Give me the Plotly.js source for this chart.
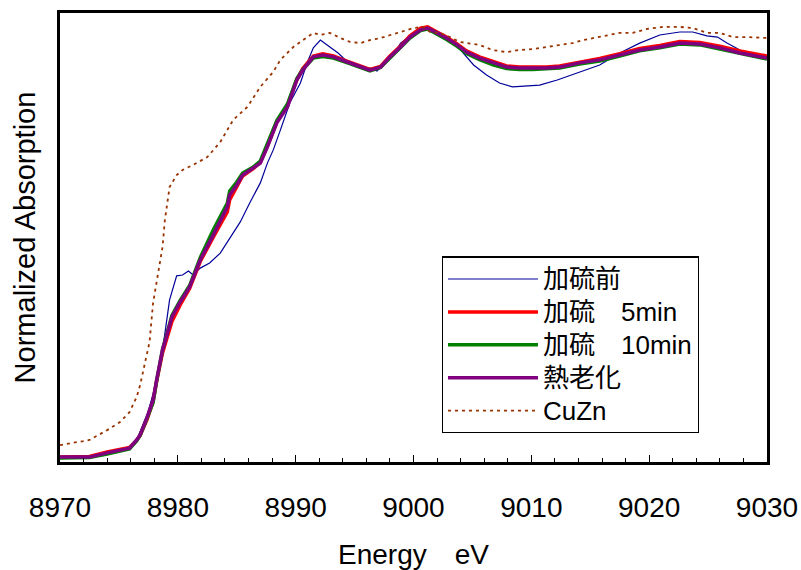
<!DOCTYPE html>
<html>
<head>
<meta charset="utf-8">
<script src="https://cdn.plot.ly/plotly-3.0.1.min.js"></script>
<style>html,body{margin:0;padding:0;background:#fff;}#chart{width:801px;height:570px;}</style>
</head>
<body>
<div id="chart"></div>
<script>
// Sample energies (eV) shared by the three sulfurized/aged curves
const energySample = [8970.0, 8972.5, 8974.0, 8975.9, 8976.5, 8976.8, 8977.4, 8977.9, 8978.2, 8978.7,
  8979.5, 8980.2, 8981.0, 8981.9, 8983.0, 8984.2, 8984.4, 8985.0, 8985.5, 8986.4,
  8987.0, 8987.6, 8988.4, 8989.3, 8990.1, 8990.6, 8991.5, 8992.3, 8993.2, 8994.4,
  8995.5, 8996.3, 8997.2, 8998.0, 8998.9, 8999.7, 9000.6, 9001.2, 9002.0, 9002.8,
  9003.7, 9004.5, 9005.6, 9006.8, 9007.9, 9009.0, 9010.1, 9011.3, 9012.4, 9014.1,
  9015.8, 9017.5, 9019.2, 9020.9, 9022.6, 9024.3, 9026.0, 9027.7, 9029.2, 9030.0];

const aged = [0.003, 0.003, 0.017, 0.033, 0.060, 0.077, 0.137, 0.193, 0.260, 0.360,
  0.470, 0.520, 0.570, 0.660, 0.743, 0.837, 0.877, 0.910, 0.943, 0.967,
  0.983, 1.037, 1.117, 1.170, 1.260, 1.293, 1.337, 1.343, 1.337, 1.320,
  1.303, 1.293, 1.303, 1.337, 1.370, 1.403, 1.427, 1.433, 1.417, 1.400,
  1.377, 1.353, 1.333, 1.317, 1.303, 1.300, 1.300, 1.300, 1.303, 1.317,
  1.327, 1.343, 1.360, 1.370, 1.383, 1.380, 1.367, 1.350, 1.340, 1.333];

const sulf5 = [0.003, 0.005, 0.020, 0.035, 0.058, 0.075, 0.130, 0.188, 0.255, 0.350,
  0.455, 0.510, 0.565, 0.655, 0.735, 0.820, 0.860, 0.905, 0.940, 0.965,
  0.985, 1.040, 1.120, 1.175, 1.262, 1.298, 1.340, 1.347, 1.340, 1.322,
  1.305, 1.295, 1.305, 1.340, 1.373, 1.407, 1.433, 1.437, 1.420, 1.403,
  1.380, 1.357, 1.337, 1.320, 1.307, 1.303, 1.303, 1.303, 1.307, 1.320,
  1.332, 1.348, 1.365, 1.375, 1.388, 1.385, 1.373, 1.357, 1.347, 1.340];

const sulf10 = [0.000, 0.002, 0.013, 0.030, 0.057, 0.075, 0.135, 0.185, 0.257, 0.362,
  0.475, 0.525, 0.575, 0.668, 0.760, 0.850, 0.890, 0.920, 0.950, 0.970,
  0.990, 1.045, 1.125, 1.180, 1.265, 1.295, 1.333, 1.338, 1.333, 1.317,
  1.300, 1.290, 1.302, 1.335, 1.368, 1.400, 1.425, 1.430, 1.413, 1.395,
  1.372, 1.348, 1.328, 1.310, 1.298, 1.295, 1.295, 1.297, 1.300, 1.313,
  1.323, 1.340, 1.357, 1.367, 1.380, 1.377, 1.363, 1.347, 1.337, 1.330];

// Before sulfurization
const energyBefore = [8970.0, 8972.5, 8974.0, 8975.9, 8976.5, 8977.4, 8978.1, 8978.7, 8979.0, 8979.3,
  8979.9, 8980.4, 8980.9, 8981.3, 8981.9, 8982.7, 8983.6, 8984.4, 8985.3, 8986.1,
  8987.0, 8987.6, 8988.1, 8988.7, 8989.5, 8990.4, 8991.0, 8991.5, 8992.1, 8992.9,
  8993.6, 8994.4, 8995.5, 8996.3, 8996.9, 8997.4, 8998.3, 8998.9, 9000.0, 9000.7,
  9001.2, 9002.2, 9003.4, 9004.2, 9005.1, 9006.2, 9007.3, 9008.4, 9009.6, 9010.7,
  9012.2, 9014.1, 9015.8, 9017.5, 9019.2, 9020.9, 9022.6, 9023.7, 9024.9, 9025.8,
  9026.6, 9027.7, 9028.8, 9030.0];
const before = [0.003, 0.003, 0.013, 0.033, 0.060, 0.143, 0.243, 0.360, 0.443, 0.527,
  0.607, 0.610, 0.623, 0.610, 0.633, 0.650, 0.683, 0.733, 0.787, 0.850,
  0.917, 0.983, 1.027, 1.093, 1.183, 1.250, 1.320, 1.367, 1.393, 1.370,
  1.350, 1.320, 1.303, 1.300, 1.290, 1.310, 1.343, 1.383, 1.417, 1.437,
  1.433, 1.417, 1.387, 1.350, 1.310, 1.277, 1.250, 1.237, 1.240, 1.243,
  1.260, 1.287, 1.310, 1.350, 1.383, 1.410, 1.420, 1.420, 1.407, 1.403,
  1.383, 1.360, 1.337, 1.333];

// CuZn reference
const energyCuZn = [8970.0, 8971.1, 8972.5, 8974.0, 8975.1, 8975.9, 8976.5, 8976.8, 8977.6, 8977.9,
  8978.3, 8978.7, 8978.9, 8979.2, 8979.3, 8979.9, 8980.4, 8981.3, 8982.5, 8983.6,
  8984.7, 8985.9, 8987.0, 8988.1, 8988.7, 8989.8, 8991.0, 8991.5, 8992.1, 8992.9,
  8993.8, 8994.6, 8995.5, 8996.3, 8997.2, 8998.0, 8998.9, 9000.0, 9000.8, 9001.4,
  9002.2, 9003.1, 9003.9, 9004.8, 9005.6, 9006.7, 9007.9, 9009.0, 9010.1, 9011.3,
  9012.4, 9013.5, 9014.4, 9015.8, 9017.5, 9018.6, 9019.8, 9021.2, 9022.6, 9023.7,
  9024.9, 9026.0, 9027.1, 9028.3, 9030.0];
const cuzn = [0.043, 0.050, 0.060, 0.093, 0.120, 0.153, 0.203, 0.243, 0.387, 0.517,
  0.603, 0.703, 0.793, 0.883, 0.903, 0.943, 0.960, 0.977, 1.003, 1.053,
  1.127, 1.170, 1.237, 1.287, 1.327, 1.370, 1.403, 1.417, 1.410, 1.417,
  1.400, 1.387, 1.383, 1.393, 1.400, 1.410, 1.420, 1.433, 1.437, 1.420,
  1.417, 1.403, 1.387, 1.383, 1.377, 1.360, 1.353, 1.360, 1.363, 1.370,
  1.377, 1.383, 1.393, 1.403, 1.417, 1.417, 1.430, 1.437, 1.437, 1.433,
  1.417, 1.417, 1.403, 1.403, 1.400];

const seriesNames = ['加硫前', '加硫\u30005min', '加硫\u300010min', '熱老化', 'CuZn'];
const xTickVals = [8970, 8980, 8990, 9000, 9010, 9020, 9030];

const big = n => '<span style="font-size:26px">' + n + '</span>';

const traces = [
  {x: energyBefore, y: before, name: big(seriesNames[0]), mode: 'lines', line: {color: '#000099', width: 1.2}},
  {x: energySample, y: sulf5, name: big(seriesNames[1]), mode: 'lines', line: {color: '#ff0000', width: 3.5}},
  {x: energySample, y: sulf10, name: big(seriesNames[2]), mode: 'lines', line: {color: '#008000', width: 3.5}},
  {x: energySample, y: aged, name: big(seriesNames[3]), mode: 'lines', line: {color: '#800080', width: 3.5}},
  {x: energyCuZn, y: cuzn, name: big(seriesNames[4]), mode: 'lines', line: {color: '#993300', width: 1.8, dash: '3px,4px'}}
];

const layout = {
  width: 801, height: 570,
  margin: {l: 60, r: 34, t: 13, b: 108},
  paper_bgcolor: '#ffffff', plot_bgcolor: '#ffffff',
  font: {family: 'Liberation Sans, Arial, sans-serif', color: '#000000'},
  showlegend: true,
  legend: {
    x: 0.540, y: 0.458, xanchor: 'left', yanchor: 'top',
    bgcolor: '#ffffff', bordercolor: '#000000', borderwidth: 1.2,
    font: {family: 'Liberation Sans, Noto Sans CJK JP, sans-serif', size: 23, color: '#000000'},
    itemwidth: 90, tracegroupgap: 0
  },
  xaxis: {
    range: [8970, 9030], tickvals: xTickVals, ticktext: xTickVals.map(String),
    showline: true, linecolor: '#000000', linewidth: 3, mirror: true,
    ticks: 'inside', ticklen: 7, tickwidth: 1.2, tickcolor: '#000000',
    minor: {dtick: 2, tick0: 8970, ticks: 'inside', ticklen: 4, tickwidth: 1, tickcolor: '#000000'},
    showgrid: false, zeroline: false,
    tickfont: {family: 'Liberation Sans, Arial, sans-serif', size: 28, color: '#000000'},
    ticklabelstandoff: 18,
    title: {text: 'Energy\u3000eV', font: {family: 'Liberation Sans, Arial, sans-serif', size: 28, color: '#000000'}, standoff: 28}
  },
  yaxis: {
    range: [-0.0133, 1.4833],
    showline: true, linecolor: '#000000', linewidth: 3, mirror: true,
    ticks: '', showticklabels: false, showgrid: false, zeroline: false,
    title: {text: 'Normalized Absorption', font: {family: 'Liberation Sans, Arial, sans-serif', size: 29, color: '#000000'}, standoff: 13}
  }
};

Plotly.newPlot('chart', traces, layout, {staticPlot: true, displayModeBar: false});
</script>
</body>
</html>
